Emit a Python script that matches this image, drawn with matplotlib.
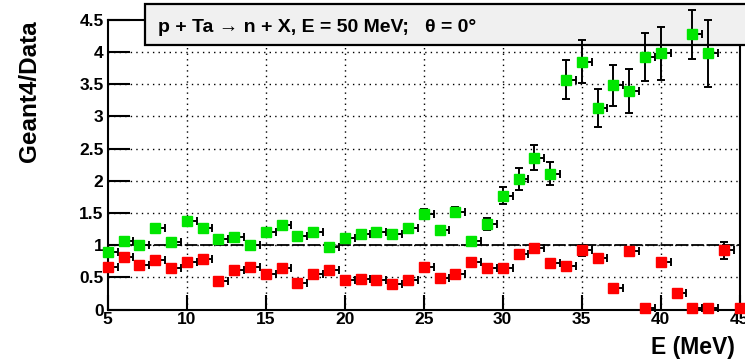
import numpy as np
import matplotlib.pyplot as plt
from matplotlib.patches import Rectangle

plt.rcParams['font.family'] = ['Liberation Sans', 'DejaVu Sans']
plt.rcParams['font.weight'] = 'bold'

# Geant4/Data ratio vs neutron energy (MeV)
e_green = [5, 6, 7, 8, 9, 10, 11, 12, 13, 14, 15, 16, 17, 18, 19, 20, 21, 22, 23, 24,
           25, 26, 27, 28, 29, 30, 31, 32, 33, 34, 35, 36, 37, 38, 39, 40, 42, 43]
r_green = [0.90, 1.07, 1.00, 1.27, 1.05, 1.37, 1.27, 1.09, 1.13, 1.01, 1.20, 1.31, 1.15, 1.20,
           0.97, 1.12, 1.18, 1.20, 1.18, 1.27, 1.49, 1.23, 1.52, 1.06, 1.33, 1.77, 2.03, 2.36,
           2.11, 3.57, 3.85, 3.13, 3.48, 3.39, 3.92, 3.98, 4.27, 3.98]
err_green = [0.04, 0.05, 0.05, 0.05, 0.05, 0.06, 0.05, 0.04, 0.04, 0.04, 0.05, 0.06, 0.05, 0.05,
             0.05, 0.05, 0.05, 0.06, 0.05, 0.06, 0.07, 0.06, 0.07, 0.06, 0.10, 0.13, 0.17, 0.20,
             0.18, 0.30, 0.33, 0.29, 0.32, 0.34, 0.37, 0.41, 0.38, 0.52]

e_red = list(range(5, 46))
r_red = [0.67, 0.81, 0.70, 0.77, 0.65, 0.74, 0.79, 0.45, 0.61, 0.67, 0.55, 0.65, 0.42, 0.55,
         0.61, 0.46, 0.48, 0.46, 0.40, 0.46, 0.67, 0.49, 0.55, 0.74, 0.65, 0.64, 0.87, 0.95,
         0.73, 0.68, 0.92, 0.80, 0.34, 0.91, 0.02, 0.74, 0.26, 0.02, 0.02, 0.92, 0.02]
err_red = [0.02, 0.02, 0.02, 0.02, 0.02, 0.02, 0.02, 0.02, 0.02, 0.02, 0.02, 0.02, 0.02, 0.02,
           0.02, 0.02, 0.02, 0.02, 0.02, 0.02, 0.03, 0.02, 0.03, 0.03, 0.03, 0.03, 0.04, 0.04,
           0.04, 0.04, 0.08, 0.05, 0.03, 0.05, 0.0, 0.05, 0.04, 0.0, 0.0, 0.13, 0.0]

xticks = [5, 10, 15, 20, 25, 30, 35, 40, 45]
yticks = [0, 0.5, 1, 1.5, 2, 2.5, 3, 3.5, 4, 4.5]
ytick_labels = ['0', '0.5', '1', '1.5', '2', '2.5', '3', '3.5', '4', '4.5']

fig = plt.figure(figsize=(7.45, 3.63), dpi=100)
ax = fig.add_axes([0.1446, 0.1468, 0.8483, 0.7992])
ax.set_xlim(5, 45)
ax.set_ylim(0, 4.5)

# grid
for x in xticks[1:-1]:
    ax.axvline(x, color='black', lw=1.0, ls=(0, (1, 3)), zorder=1)
for y in yticks[1:-1]:
    ax.axhline(y, color='black', lw=1.0, ls=(0, (1, 3)), zorder=1)

# unity reference line
ax.axhline(1.0, color='black', lw=1.3, ls=(0, (7, 1.5)), zorder=1.5)

# header box
box = Rectangle((0.059, 0.9124), 0.96, 0.14, transform=ax.transAxes, clip_on=False,
                facecolor='#f0f0f0', edgecolor='black', lw=1.6, zorder=2.6)
ax.add_patch(box)
ax.text(0.0795, 0.972, 'p + Ta \u2192 n + X, E = 50 MeV;   \u03b8 = 0\u00b0', transform=ax.transAxes,
        fontsize=14, fontweight='bold', va='center', ha='left', zorder=2.7,
        family=['Liberation Sans', 'DejaVu Sans'])

for e, r, err, col in [(e_red, r_red, err_red, '#ff0000'), (e_green, r_green, err_green, '#00e600')]:
    n = len(e)
    ax.errorbar(e, r, yerr=err, xerr=[[0.25] * n, [0.62] * n], fmt='s', ms=7.5,
                mfc=col, mec=col, ecolor='black', elinewidth=1.4, capsize=3.2, capthick=1.4,
                zorder=3, clip_on=False)

ax.set_xticks(xticks)
ax.set_xticklabels([str(v) for v in xticks], fontweight='bold')
ax.set_yticks(yticks)
ax.set_yticklabels(ytick_labels, fontweight='bold')
ax.tick_params(axis='both', which='major', direction='in', width=1.5, labelsize=12.5)
ax.tick_params(axis='x', which='major', length=11, pad=2)
ax.tick_params(axis='y', which='major', length=16, pad=3)
for s in ax.spines.values():
    s.set_linewidth(1.5)

fig.text(0.04, 0.945, 'Geant4/Data', rotation=90, ha='center', va='top', fontsize=17.5,
         fontweight='bold')
fig.text(0.987, 0.01, 'E (MeV)', ha='right', va='bottom', fontsize=16.5, fontweight='bold')

fig.savefig('out.png', dpi=100)
